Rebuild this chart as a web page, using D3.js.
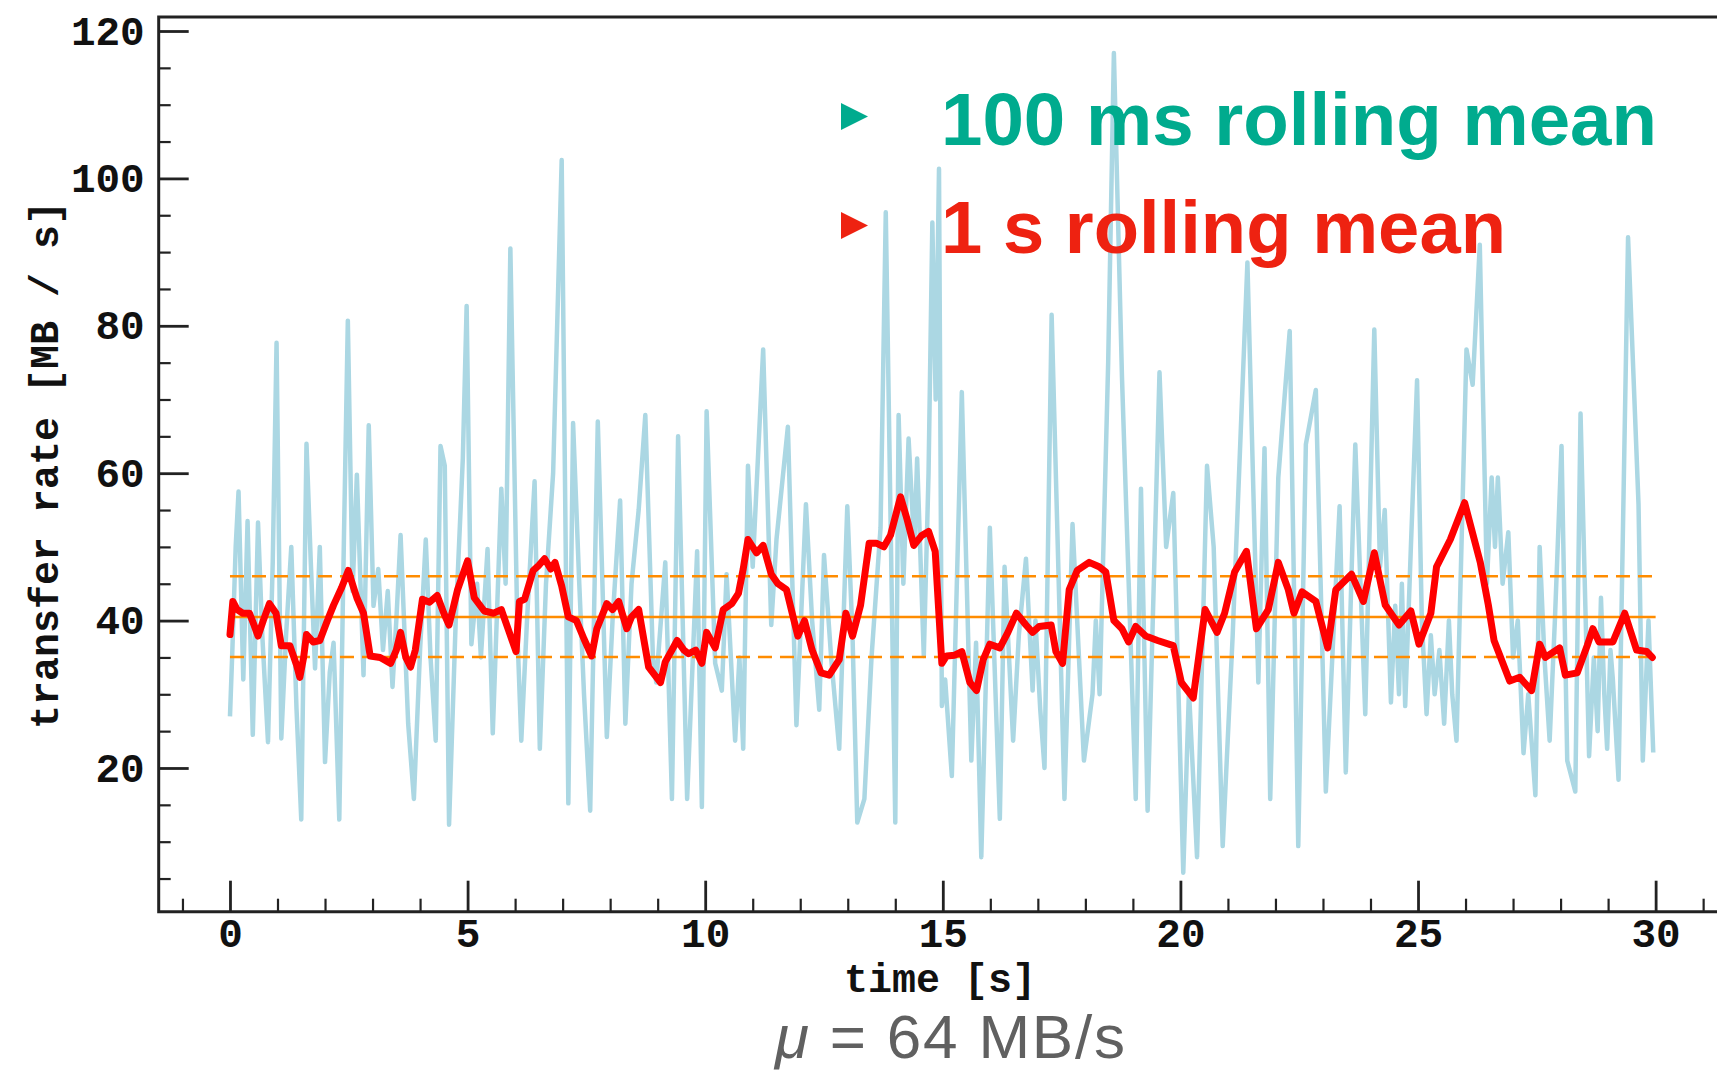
<!DOCTYPE html>
<html>
<head>
<meta charset="utf-8">
<script src="https://cdn.jsdelivr.net/npm/d3@7"></script>
<style>
  html, body { margin: 0; padding: 0; background: #fff; }
  svg { display: block; }
</style>
</head>
<body>
<svg id="chart" width="1717" height="1070"></svg>
<script>
// 100 ms rolling mean of the transfer rate (time in s, rate in MB/s)
const fastTime = [
  0.00,0.05,0.12,0.18,0.28,0.37,0.48,0.59,0.68,0.80,
  0.90,0.98,1.08,1.18,1.29,1.40,1.50,1.61,1.70,1.79,
  1.89,2.00,2.10,2.18,2.30,2.40,2.48,2.58,2.67,2.81,
  2.92,3.02,3.12,3.22,3.32,3.42,3.50,3.59,3.75,3.87,
  4.00,4.12,4.22,4.33,4.43,4.52,4.61,4.75,4.90,4.98,
  5.08,5.20,5.28,5.42,5.53,5.71,5.80,5.90,6.05,6.13,
  6.25,6.41,6.52,6.65,6.80,6.98,7.12,7.22,7.35,7.45,
  7.58,7.74,7.93,8.05,8.21,8.32,8.45,8.60,8.74,8.90,
  8.97,9.16,9.30,9.43,9.62,9.83,9.93,10.03,10.21,10.35,
  10.45,10.63,10.72,10.80,10.90,11.00,11.22,11.39,11.50,11.74,
  11.92,12.12,12.25,12.40,12.50,12.65,12.82,12.99,13.10,13.20,
  13.35,13.50,13.69,13.80,14.00,14.07,14.17,14.28,14.40,14.46,
  14.60,14.70,14.78,14.85,14.92,14.98,15.05,15.19,15.40,15.60,
  15.70,15.81,15.99,16.20,16.30,16.48,16.60,16.75,16.89,16.95,
  17.05,17.14,17.29,17.56,17.73,17.97,18.15,18.22,18.30,18.40,
  18.48,18.60,18.77,19.06,19.17,19.31,19.56,19.70,19.85,20.06,
  20.18,20.35,20.56,20.70,20.89,21.10,21.41,21.64,21.77,21.89,
  22.06,22.30,22.48,22.64,22.85,23.06,23.35,23.48,23.68,23.89,
  24.08,24.20,24.30,24.43,24.52,24.60,24.66,24.73,24.85,24.98,
  25.08,25.18,25.27,25.35,25.45,25.55,25.65,25.72,25.81,26.02,
  26.15,26.30,26.45,26.55,26.62,26.68,26.78,26.90,27.00,27.10,
  27.22,27.32,27.47,27.56,27.66,27.77,27.88,28.02,28.14,28.31,
  28.42,28.60,28.70,28.78,28.85,28.92,28.98,29.05,29.10,29.22,
  29.42,29.64,29.73,29.85,29.95
];
const fastRate = [
  27.0,36,50,57.5,32,53.5,24.5,53.3,38,23.5,
  48,77.7,24,38,50,28,13,64,48,33.5,
  50,20.8,33,37,13,52,80.7,44,59.8,32.6,
  66.5,42,47,36,44,31,40,51.6,26,15.8,
  36,51,35,23.7,63.7,61,12.3,40,62,82.7,
  36.8,45,35,49.7,24.7,57.9,45,90.5,38,23.7,
  40,58.9,22.6,45,60,102.5,15.2,66.8,45,30,
  14.2,67,24.2,40,56.3,26,45,55,67.9,35,
  31.6,47.9,15.8,65,15.8,49.4,14.7,68.4,34.2,30.5,
  46.3,23.7,35,22.6,61,47.3,76.8,39.4,51,66.3,
  25.8,55.8,40,27.9,48.9,35,22.6,55.5,38,12.6,
  15.8,35,52.6,95.4,12.6,67.9,45,64.7,50,62,
  35.2,60,94,70,101.3,28.4,32,18.9,71,21,
  37,7.9,52.6,13.1,47.3,23.7,38,48.4,30.5,40,
  28,20,81.5,15.8,53.1,21,30,40,30,55,
  75,117,73.1,15.8,57.9,14.2,73.7,50,57.3,5.8,
  30.5,7.9,61,50,9.4,38,88.6,31.6,63.4,15.8,
  59.4,79.3,9.4,63.9,71.3,16.8,55.5,19.4,63.9,27.3,
  79.5,47.3,55,28.9,42,30,45,28.4,50,72.6,
  40,27.3,38,30,36,26,40,30,23.7,76.8,
  72,91,45,59.4,50,59.4,45,52,35,40,
  22,30,16.3,50,35,23.7,40,63.7,21,16.8,
  68.1,21.6,35,25,43.1,30,22.6,36,32,18.4,
  92,55.8,21,40,22.1
];

// 1 s rolling mean of the transfer rate
const slowTime = [0.00,0.06,0.15,0.27,0.41,0.50,0.59,0.70,0.83,0.97,1.08,1.26,1.40,1.47,1.55,1.61,1.75,1.89,2.05,2.18,2.35,2.49,2.60,2.67,2.81,2.95,3.16,3.38,3.50,3.59,3.70,3.80,3.90,4.05,4.20,4.36,4.50,4.61,4.79,5.00,5.14,5.35,5.55,5.71,5.85,6.02,6.09,6.20,6.38,6.50,6.62,6.75,6.84,6.98,7.12,7.29,7.45,7.61,7.72,7.93,8.05,8.18,8.35,8.45,8.60,8.72,8.81,9.06,9.16,9.30,9.41,9.55,9.65,9.80,9.93,10.03,10.21,10.38,10.56,10.70,10.80,10.90,11.08,11.22,11.39,11.53,11.71,11.85,11.95,12.09,12.25,12.44,12.61,12.82,12.96,13.10,13.27,13.45,13.60,13.76,13.90,14.11,14.25,14.39,14.55,14.70,14.84,14.98,15.08,15.25,15.40,15.57,15.71,15.85,15.99,16.20,16.37,16.55,16.75,16.89,17.03,17.28,17.38,17.52,17.66,17.83,18.08,18.29,18.43,18.60,18.77,18.91,19.06,19.27,19.52,19.85,20.02,20.27,20.52,20.77,20.93,21.14,21.39,21.60,21.85,22.06,22.27,22.39,22.56,22.85,23.10,23.27,23.60,23.85,24.08,24.31,24.60,24.85,25.02,25.27,25.39,25.68,25.98,26.31,26.48,26.60,26.93,27.14,27.39,27.56,27.68,27.98,28.10,28.35,28.56,28.68,28.81,29.10,29.35,29.60,29.81,29.93];
const slowRate = [38.1,42.6,41.5,41,41,39.5,37.9,40,42.3,41,36.6,36.6,34,32.3,35,38.1,37.1,37.3,40,42.1,44.5,46.8,44.5,43.1,41,35.2,35,34.2,36,38.4,35,33.7,36,42.9,42.5,43.4,41,39.4,44.2,48.1,43.1,41.3,41,41.5,38.9,35.8,42.6,42.9,46.8,47.5,48.4,47,47.9,44.7,40.5,40,37.5,35.2,38.9,42.3,41.5,42.6,38.9,40.5,41.5,37,33.7,31.6,34.4,36,37.3,36,35.5,36,34.2,38.4,36.3,41.5,42.3,43.7,47,51,49.2,50.2,46.3,45,44.2,40.5,37.9,40,36,32.9,32.6,34.7,41,37.9,42.1,50.5,50.5,50,51.6,56.8,53.7,50.2,51.5,52.1,49.4,34.2,35.2,35.3,35.8,31.6,30.5,34.7,36.8,36.3,38.4,41,39.4,38.4,39.2,39.4,35.8,34.2,44.2,46.8,47.9,47.3,46.6,40,38.9,37.1,39.2,37.9,37.3,36.6,31.6,29.5,41.5,38.4,41,46.6,49.4,38.9,41.5,47.9,44.2,41,43.9,42.6,36.3,44.2,46.3,42.6,49.2,42.1,39.4,41.3,36.8,41,47.3,51,56,47.9,42.1,37.3,31.8,32.3,30.5,36.8,35,36.3,32.6,32.9,36.6,38.9,37.1,37.1,41,36,35.8,35];

// overall mean and the band around it
const meanRate = 40.5;
const bandLow = 35.05;
const bandHigh = 46.0;
const timeSpan = [0, 30];

const xMajorTicks = [0, 5, 10, 15, 20, 25, 30];
const xMinorTicks = [-1,1,2,3,4,6,7,8,9,11,12,13,14,16,17,18,19,21,22,23,24,26,27,28,29,31];
const yMajorTicks = [20, 40, 60, 80, 100, 120];
const yMinorTicks = [5,10,15,25,30,35,45,50,55,65,70,75,85,90,95,105,110,115];

const legendItems = [
  { label: "100 ms rolling mean", color: "#00ab8e" },
  { label: "1 s rolling mean",   color: "#ee2211" }
];
const xTitle = "time [s]";
const yTitle = "transfer rate [MB / s]";
const footnote = " = 64 MB/s";

const svg = d3.select("#chart");
const monoFont = "'Liberation Mono', 'Courier New', monospace";

const x = d3.scaleLinear().domain([-1.5, 31.3]).range([158.7, 1717.4]);
const y = d3.scaleLinear().domain([0.5, 121.9]).range([911.7, 17]);

const fastPoints = fastTime.map((t, i) => [t, fastRate[i]]);
const slowPoints = slowTime.map((t, i) => [t, slowRate[i]]);
const line = d3.line().x(d => x(d[0])).y(d => y(d[1]));

// 100 ms series
svg.append("path")
  .datum(fastPoints)
  .attr("d", line)
  .attr("fill", "none")
  .attr("stroke", "#abd7e3")
  .attr("stroke-width", 4.5)
  .attr("stroke-linejoin", "round");

// mean line and band
const refLines = [
  { v: bandHigh, dash: "14,8" },
  { v: meanRate, dash: null },
  { v: bandLow,  dash: "14,8" }
];
svg.selectAll("line.ref")
  .data(refLines)
  .join("line")
  .attr("class", "ref")
  .attr("x1", x(timeSpan[0]))
  .attr("x2", x(timeSpan[1]))
  .attr("y1", d => y(d.v))
  .attr("y2", d => y(d.v))
  .attr("stroke", "#ff8c00")
  .attr("stroke-width", 2.5)
  .attr("stroke-dasharray", d => d.dash);

// 1 s series
svg.append("path")
  .datum(slowPoints)
  .attr("d", line)
  .attr("fill", "none")
  .attr("stroke", "#ff0000")
  .attr("stroke-width", 7)
  .attr("stroke-linejoin", "round")
  .attr("stroke-linecap", "round");

// axes: minor and major ticks live in separate groups
const axisColor = "#222";
const yLeft = x.range()[0];
const xBottom = y.range()[0];

svg.append("g").attr("class", "minor")
  .attr("transform", `translate(${yLeft},0)`)
  .call(d3.axisLeft(y).tickValues(yMinorTicks).tickSize(-12).tickFormat(""));
svg.append("g").attr("class", "major")
  .attr("transform", `translate(${yLeft},0)`)
  .call(d3.axisLeft(y).tickValues(yMajorTicks).tickSize(-30).tickPadding(14).tickFormat(d3.format("d")));

svg.append("g").attr("class", "minor")
  .attr("transform", `translate(0,${xBottom})`)
  .call(d3.axisBottom(x).tickValues(xMinorTicks).tickSize(-13).tickFormat(""));
svg.append("g").attr("class", "major")
  .attr("transform", `translate(0,${xBottom})`)
  .call(d3.axisBottom(x).tickValues(xMajorTicks).tickSize(-31).tickPadding(6).tickFormat(d3.format("d")));

svg.selectAll(".domain").remove();
svg.selectAll(".minor .tick line").attr("stroke", axisColor).attr("stroke-width", 2.2);
svg.selectAll(".major .tick line").attr("stroke", axisColor).attr("stroke-width", 2.8);
svg.selectAll(".tick text")
  .attr("font-family", monoFont)
  .attr("font-weight", "bold")
  .attr("font-size", 41)
  .attr("fill", "#111");

// frame: top, left and bottom edges
const frame = d3.path();
frame.moveTo(x.range()[1], y.range()[1]);
frame.lineTo(x.range()[0], y.range()[1]);
frame.lineTo(x.range()[0], y.range()[0]);
frame.lineTo(x.range()[1], y.range()[0]);
svg.append("path")
  .attr("d", frame.toString())
  .attr("fill", "none")
  .attr("stroke", axisColor)
  .attr("stroke-width", 3);

// axis titles
svg.append("text")
  .attr("x", 940).attr("y", 992)
  .attr("text-anchor", "middle")
  .attr("font-family", monoFont)
  .attr("font-weight", "bold")
  .attr("font-size", 40)
  .attr("fill", "#111")
  .text(xTitle);

svg.append("text")
  .attr("transform", "translate(58,465) rotate(-90)")
  .attr("text-anchor", "middle")
  .attr("font-family", monoFont)
  .attr("font-weight", "bold")
  .attr("font-size", 40)
  .attr("fill", "#111")
  .text(yTitle);

// legend
const legendRows = [
  { top: 103, baseline: 144.5, length: 716 },
  { top: 212, baseline: 253, length: 565 }
];
const legend = svg.selectAll("g.legend")
  .data(legendItems)
  .join("g")
  .attr("class", "legend");
legend.append("path")
  .attr("d", (d, i) => {
    const t = legendRows[i].top;
    return `M841,${t}L841,${t + 27}L868,${t + 13.5}Z`;
  })
  .attr("fill", d => d.color);
legend.append("text")
  .attr("x", 941)
  .attr("y", (d, i) => legendRows[i].baseline)
  .attr("textLength", (d, i) => legendRows[i].length)
  .attr("lengthAdjust", "spacingAndGlyphs")
  .attr("font-family", "'Liberation Sans', Arial, sans-serif")
  .attr("font-weight", "bold")
  .attr("font-size", 75)
  .attr("fill", d => d.color)
  .text(d => d.label);

// footnote with the mean throughput
const foot = svg.append("text")
  .attr("x", 775).attr("y", 1058)
  .attr("textLength", 350)
  .attr("lengthAdjust", "spacing")
  .attr("font-family", "'Liberation Sans', Arial, sans-serif")
  .attr("font-size", 62)
  .attr("fill", "#606060");
foot.append("tspan").attr("font-style", "italic").text("\u03bc");
foot.append("tspan").text(footnote);
</script>
</body>
</html>
